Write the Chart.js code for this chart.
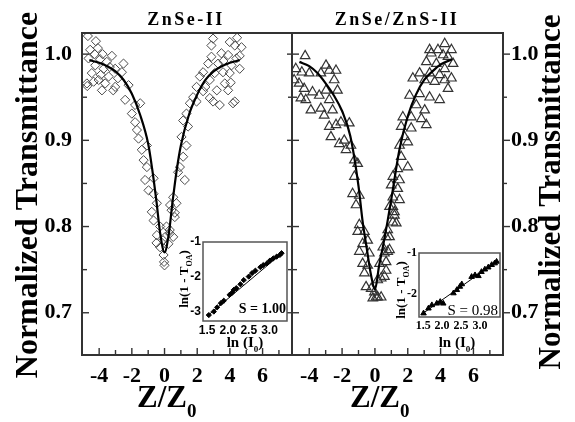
<!DOCTYPE html>
<html><head><meta charset="utf-8">
<script src="https://cdn.jsdelivr.net/npm/chart.js@4.4.1/dist/chart.umd.min.js"></script>
<style>
html,body{margin:0;padding:0;background:#fff;}
#wrap{position:relative;width:575px;height:422px;overflow:hidden;background:#fff}
#wrap canvas{position:absolute;left:0;top:0}
</style></head><body>
<div id="wrap">
<canvas id="cL" width="575" height="422"></canvas>
<canvas id="cR" width="575" height="422"></canvas>
<canvas id="iL" width="575" height="422"></canvas>
<canvas id="iR" width="575" height="422"></canvas>
</div>
<script>
// ---------- tick values / labels ----------
const mainXTicks  = [-4,-3,-2,-1,0,1,2,3,4,5,6,7];
const mainXLabels = ['-4','','-2','','0','','2','','4','','6',''];
const mainYTicks  = [0.7,0.75,0.8,0.85,0.9,0.95,1.0];
const mainYLabels = ['0.7','','0.8','','0.9','','1.0'];
const insXTicks   = [1.5,2.0,2.5,3.0];
const insXLabels  = ['1.5','2.0','2.5','3.0'];
const insLYTicks  = [-1,-2,-3];
const insLYLabels = ['-1','-2','-3'];
const insRYTicks  = [-1,-2];
const insRYLabels = ['-1','-2'];

// ---------- ZnSe-II (left panel) ----------
const znseX = [-4.69,-4.20,-4.55,-4.08,-4.28,-3.79,-3.22,-4.65,-3.94,-3.53,-2.51,-4.24,-3.73,-3.02,-2.61,-4.75,-4.34,-4.03,-3.63,-3.42,
 -3.02,-2.20,-3.83,-2.41,-1.80,-1.49,-2.00,-1.80,-1.69,-1.59,-1.08,-1.39,-1.28,-1.08,-1.19,-0.67,-0.98,-0.67,-0.78,-0.47,
 0.34,-0.67,-0.27,-0.47,0.04,-0.27,-0.06,0.24,-0.03,0.00,-0.49,0.32,0.63,0.53,-4.73,-3.14,-4.45,-3.90,-3.35,-2.85,
 4.44,2.97,4.30,4.71,2.87,3.48,3.89,2.87,4.40,2.67,3.28,4.10,4.60,2.36,3.07,3.58,3.99,2.16,2.77,3.69,
 3.89,1.96,2.36,2.77,3.38,2.97,4.30,1.75,1.55,1.96,1.34,1.14,1.44,1.04,1.34,1.14,0.94,0.83,1.24,0.53,
 0.73,0.43,0.63,0.12,0.32,-0.09,3.99,4.19,3.60,4.05,3.20,2.50,4.60];
const znseY = [1.021,1.015,1.005,1.007,1.000,1.000,0.998,0.995,0.994,0.991,0.989,0.987,0.983,0.983,0.979,0.966,0.968,0.970,0.966,0.974,
 0.962,0.964,0.958,0.947,0.941,0.943,0.931,0.921,0.912,0.902,0.894,0.889,0.877,0.869,0.854,0.856,0.842,0.838,0.817,0.827,
 0.825,0.807,0.800,0.790,0.788,0.776,0.767,0.780,0.759,0.755,0.781,0.796,0.816,0.788,0.963,0.958,0.978,0.976,0.985,0.972,
 1.019,1.018,1.010,1.008,1.010,1.001,0.999,0.997,0.995,0.989,0.989,0.987,0.983,0.979,0.978,0.979,0.978,0.974,0.970,0.966,
 0.958,0.962,0.957,0.949,0.941,0.945,0.945,0.950,0.943,0.945,0.931,0.923,0.916,0.904,0.894,0.881,0.869,0.863,0.854,0.834,
 0.827,0.819,0.811,0.800,0.792,0.784,1.014,0.943,0.992,0.967,0.958,0.962,0.998];
const znseFitX = [-4.6,-4,-3.5,-3,-2.5,-2,-1.5,-1,-0.75,-0.5,-0.25,0,0.25,0.5,0.75,1,1.5,2,2.5,3,3.5,4,4.6];
const znseFitY = [0.993,0.990,0.986,0.980,0.970,0.954,0.930,0.896,0.866,0.830,0.790,0.770,0.790,0.830,0.866,0.894,0.930,0.953,0.970,0.980,0.986,0.990,0.993];

// ---------- ZnSe/ZnS-II (right panel) ----------
const zsX = [-4.25,-4.82,-4.45,-4.00,-2.98,-2.37,-3.29,-2.78,-4.92,-4.62,-4.31,-3.80,-4.51,-4.21,-3.39,-2.98,-2.48,-2.28,-2.78,-3.90,
 -3.29,-3.09,-2.58,-2.78,-2.37,-2.07,-2.68,-2.17,-1.87,-1.56,-1.76,-1.46,-1.25,-1.05,-1.25,-1.36,-0.95,-1.15,-0.95,-1.05,
 -0.64,-0.44,-0.75,-0.95,-0.34,-0.44,-0.64,-0.54,-0.13,-0.23,-0.75,
 0.17,0.38,0.17,-0.03,0.58,0.68,0.68,0.58,0.89,0.89,0.78,1.30,1.19,1.09,
 4.25,3.84,3.43,4.15,4.45,3.13,3.74,4.25,2.72,3.33,3.94,2.31,3.03,3.64,4.25,2.11,2.72,3.33,3.94,2.52,
 3.03,1.70,2.21,2.83,3.13,1.60,2.21,1.80,1.50,2.00,1.60,2.00,1.39,1.09,1.50,0.99,1.39,1.09,1.50,0.89,
 1.19,1.09,0.68,0.48,0.78,0.28,0.38,0.07,4.66,4.76,4.66,4.45,3.33];
const zsY = [0.998,0.983,0.979,0.978,0.987,0.981,0.978,0.981,0.970,0.966,0.960,0.956,0.949,0.947,0.952,0.958,0.970,0.958,0.947,0.935,
 0.937,0.929,0.935,0.916,0.918,0.921,0.904,0.896,0.900,0.920,0.889,0.894,0.877,0.873,0.858,0.838,0.836,0.825,0.802,0.794,
 0.794,0.784,0.780,0.771,0.769,0.755,0.746,0.730,0.717,0.728,0.757,
 0.718,0.718,0.738,0.724,0.742,0.749,0.759,0.769,0.773,0.788,0.796,0.804,0.813,0.823,
 1.012,1.005,1.001,0.999,0.997,0.991,0.989,0.983,0.978,0.978,0.976,0.972,0.970,0.968,0.970,0.952,0.954,0.950,0.947,0.941,
 0.935,0.927,0.927,0.925,0.918,0.916,0.914,0.904,0.894,0.898,0.881,0.869,0.867,0.858,0.854,0.848,0.844,0.834,0.831,0.823,
 0.817,0.805,0.788,0.776,0.771,0.757,0.740,0.718,1.005,0.989,0.972,0.960,1.005];
const zsFitX = [-4.6,-4,-3.5,-3,-2.5,-2,-1.5,-1,-0.75,-0.5,-0.25,0,0.25,0.5,0.75,1,1.5,2,2.5,3,3.5,4,4.7];
const zsFitY = [0.991,0.986,0.978,0.966,0.952,0.934,0.905,0.847,0.806,0.775,0.745,0.727,0.754,0.778,0.804,0.832,0.890,0.928,0.953,0.970,0.980,0.988,0.994];

// ---------- insets: ln(1-T_OA) vs ln(I0) ----------
const insLX = [1.54,1.66,1.74,1.83,1.90,2.04,2.10,2.14,2.20,2.30,2.38,2.50,2.58,2.66,2.78,2.85,2.94,3.01,3.09,3.17,3.25,3.29];
const insLY = [-3.09,-2.99,-2.87,-2.75,-2.68,-2.51,-2.45,-2.37,-2.32,-2.21,-2.09,-1.99,-1.89,-1.82,-1.72,-1.66,-1.61,-1.53,-1.47,-1.42,-1.37,-1.32];
const insLFitX = [1.50,3.32];
const insLFitY = [-3.12,-1.30];
const insRX = [1.51,1.64,1.73,1.86,1.95,2.03,2.30,2.39,2.47,2.52,2.78,2.87,2.96,3.04,3.13,3.22,3.31,3.39,3.44];
const insRY = [-2.47,-2.35,-2.27,-2.23,-2.19,-2.23,-1.98,-1.90,-1.82,-1.76,-1.58,-1.54,-1.56,-1.46,-1.40,-1.35,-1.29,-1.25,-1.21];
const insRFitX = [1.45,3.47];
const insRFitY = [-2.50,-1.19];

// ---------- helpers ----------
const pts = (xs, ys) => xs.map((x, i) => ({x, y: ys[i]}));
const SERIF = '"Liberation Serif","Times New Roman",serif';

const framePlugin = {
  id: 'frameTicks',
  beforeDatasetsDraw(chart, args, o) {
    if (!o.bg) return;
    const a = chart.chartArea, ctx = chart.ctx;
    ctx.save(); ctx.fillStyle = o.bg;
    ctx.fillRect(a.left, a.top, a.right - a.left, a.bottom - a.top);
    ctx.restore();
  },
  afterDatasetsDraw(chart, args, o) {
    const a = chart.chartArea, ctx = chart.ctx;
    ctx.save();
    ctx.strokeStyle = o.color || '#333';
    ctx.lineWidth = o.width || 1.5;
    ctx.strokeRect(a.left, a.top, a.right - a.left, a.bottom - a.top);
    ctx.lineWidth = o.tickWidth || 1.2;
    (o.marks || []).forEach(m => {
      const sc = chart.scales[m.scale];
      sc.ticks.forEach(t => {
        const len = (t.label !== '' ? m.major : m.minor) * m.dir;
        const p = sc.getPixelForValue(t.value);
        ctx.beginPath();
        if (m.side === 'bottom') { ctx.moveTo(p, a.bottom); ctx.lineTo(p, a.bottom - len); }
        else if (m.side === 'left') { ctx.moveTo(a.left, p); ctx.lineTo(a.left + len, p); }
        else if (m.side === 'right') { ctx.moveTo(a.right, p); ctx.lineTo(a.right - len, p); }
        ctx.stroke();
      });
    });
    ctx.restore();
  }
};

const textPlugin = {
  id: 'texts',
  afterDraw(chart, args, o) {
    const ctx = chart.ctx;
    (o.items || []).forEach(it => {
      ctx.save();
      ctx.fillStyle = it.color || '#000';
      ctx.textBaseline = 'alphabetic';
      ctx.textAlign = 'left';
      try { ctx.letterSpacing = it.ls || '0px'; } catch (e) {}
      let total = 0;
      const w = it.segs.map(s => { ctx.font = s.font; const m = ctx.measureText(s.t).width; total += m; return m; });
      ctx.translate(it.x, it.y);
      ctx.rotate(it.rot || 0);
      let cx = it.align === 'center' ? -total / 2 : (it.align === 'right' ? -total : 0);
      it.segs.forEach((s, i) => { ctx.font = s.font; ctx.fillText(s.t, cx, s.dy || 0); cx += w[i]; });
      ctx.restore();
    });
  }
};

const fixW = v => s => { s.width = v; };
const fixH = v => s => { s.height = v; };
const setTicks = vals => s => { s.ticks = vals.map(v => ({value: v})); };

// area = [left, top, right, bottom] of the plot box in page pixels
function mainChart(id, area, fitX, fitY, px, py, marker, rightLabels, items) {
  const [L, T, Rr, Bb] = area;
  const tickFont = {family: SERIF, weight: 'bold', size: 22};
  const scales = {
    x: {type: 'linear', position: 'bottom', min: -5.05, max: 7.8,
        grid: {display: false, drawTicks: false}, border: {display: false},
        afterBuildTicks: setTicks(mainXTicks), afterFit: fixH(422 - Bb),
        ticks: {autoSkip: false, maxRotation: 0, padding: 8, color: '#000', font: tickFont,
                callback: (v, i) => mainXLabels[i]}},
    y: {type: 'linear', position: 'left', min: 0.651, max: 1.0245,
        grid: {display: false, drawTicks: false}, border: {display: false},
        afterBuildTicks: setTicks(mainYTicks), afterFit: fixW(rightLabels ? 0 : L),
        ticks: {display: !rightLabels, autoSkip: false, padding: 10, color: '#000', font: tickFont,
                callback: (v, i) => mainYLabels[i]}}
  };
  const marks = [
    {scale: 'x', side: 'bottom', dir: 1, major: 7, minor: 5},
    {scale: 'y', side: 'left', dir: 1, major: 7, minor: 5}
  ];
  if (rightLabels) {
    scales.y2 = {type: 'linear', position: 'right', min: 0.651, max: 1.0245,
        grid: {display: false, drawTicks: false}, border: {display: false},
        afterBuildTicks: setTicks(mainYTicks), afterFit: fixW(575 - Rr),
        ticks: {autoSkip: false, padding: 8, color: '#000', font: tickFont,
                callback: (v, i) => mainYLabels[i]}};
    marks.push({scale: 'y2', side: 'right', dir: -1, major: 7, minor: 4});
  } else {
    marks.push({scale: 'y', side: 'right', dir: 1, major: 5, minor: 4});
  }
  const pad = {left: rightLabels ? L : 0, top: T, right: rightLabels ? 0 : 575 - Rr, bottom: 0};
  return new Chart(document.getElementById(id), {
    type: 'scatter',
    data: {datasets: [
      {type: 'line', data: pts(fitX, fitY), borderColor: '#000', borderWidth: 2.2, pointRadius: 0,
       cubicInterpolationMode: 'monotone', fill: false},
      {type: 'scatter', data: pts(px, py), pointStyle: marker.style, pointRadius: marker.r,
       borderColor: marker.color, borderWidth: marker.bw, backgroundColor: 'rgba(0,0,0,0)'}
    ]},
    options: {
      responsive: false, animation: false, events: [],
      layout: {padding: pad},
      scales,
      plugins: {legend: {display: false}, tooltip: {enabled: false}, title: {display: false},
        frameTicks: {color: '#333', width: 2, tickWidth: 1.4, marks},
        texts: {items}}
    },
    plugins: [framePlugin, textPlugin]
  });
}

function insetChart(id, area, xr, yr, yTicks, yLabels, fx, fy, px, py, marker, tickFamily, items) {
  const [L, T, Rr, Bb] = area;
  const f = {family: tickFamily, weight: 'bold', size: 12};
  return new Chart(document.getElementById(id), {
    type: 'scatter',
    data: {datasets: [
      {type: 'line', data: pts(fx, fy), borderColor: '#000', borderWidth: 1, pointRadius: 0, fill: false},
      {type: 'scatter', data: pts(px, py), pointStyle: marker.style, pointRadius: marker.r,
       borderColor: '#000', borderWidth: 1, backgroundColor: '#000'}
    ]},
    options: {
      responsive: false, animation: false, events: [],
      layout: {padding: {left: 0, top: T, right: 575 - Rr, bottom: 0}},
      scales: {
        x: {type: 'linear', min: xr[0], max: xr[1], grid: {display: false, drawTicks: false}, border: {display: false},
            afterBuildTicks: setTicks(insXTicks), afterFit: fixH(422 - Bb),
            ticks: {autoSkip: false, maxRotation: 0, padding: 2, color: '#000', font: f, callback: (v, i) => insXLabels[i]}},
        y: {type: 'linear', min: yr[0], max: yr[1], grid: {display: false, drawTicks: false}, border: {display: false},
            afterBuildTicks: setTicks(yTicks), afterFit: fixW(L),
            ticks: {autoSkip: false, padding: 2, color: '#000', font: f, callback: (v, i) => yLabels[i]}}
      },
      plugins: {legend: {display: false}, tooltip: {enabled: false},
        frameTicks: {bg: '#fff', color: '#555', width: 1.5, marks: []},
        texts: {items}}
    },
    plugins: [framePlugin, textPlugin]
  });
}

const B = s => 'bold ' + s + 'px ' + SERIF;
const R90 = -Math.PI / 2;

mainChart('cL', [82, 33, 292, 355], znseFitX, znseFitY, znseX, znseY,
  {style: 'rectRot', r: 4.6, color: '#4a4a4a', bw: 1}, false, [
    {x: 186, y: 25, align: 'center', ls: '2.5px', segs: [{t: 'ZnSe-II', font: B(18)}]},
    {x: 37, y: 195, rot: R90, align: 'center', segs: [{t: 'Normalized Transmittance', font: B(32)}]},
    {x: 137, y: 407, align: 'left', segs: [{t: 'Z/Z', font: B(31)}, {t: '0', font: B(19), dy: 10}]}
  ]);

mainChart('cR', [292, 33, 503, 355], zsFitX, zsFitY, zsX, zsY,
  {style: 'triangle', r: 5.5, color: '#333', bw: 1.2}, true, [
    {x: 397, y: 25, align: 'center', ls: '2.5px', segs: [{t: 'ZnSe/ZnS-II', font: B(18)}]},
    {x: 560, y: 192, rot: R90, align: 'center', segs: [{t: 'Normalized Transmittance', font: B(31)}]},
    {x: 350, y: 407, align: 'left', segs: [{t: 'Z/Z', font: B(31)}, {t: '0', font: B(19), dy: 10}]}
  ]);

insetChart('iL', [203, 242, 287, 321], [1.4, 3.42], [-3.26, -1.0], insLYTicks, insLYLabels,
  insLFitX, insLFitY, insLX, insLY, {style: 'rectRot', r: 2.6}, '"Liberation Sans",Arial,sans-serif', [
    {x: 188, y: 279, rot: R90, align: 'center', segs: [{t: 'ln(1 - T', font: B(13)}, {t: 'OA', font: B(8), dy: 4}, {t: ')', font: B(13)}]},
    {x: 245, y: 347, align: 'center', segs: [{t: 'ln (I', font: B(15)}, {t: '0', font: B(9), dy: 5}, {t: ')', font: B(15)}]},
    {x: 286, y: 313, align: 'right', segs: [{t: 'S = 1.00', font: B(14)}]}
  ]);

insetChart('iR', [419, 253, 500, 317], [1.39, 3.53], [-2.56, -1.0], insRYTicks, insRYLabels,
  insRFitX, insRFitY, insRX, insRY, {style: 'triangle', r: 3.2}, SERIF, [
    {x: 405, y: 290, rot: R90, align: 'center', segs: [{t: 'ln(1 - T', font: B(13)}, {t: 'OA', font: B(8), dy: 4}, {t: ')', font: B(13)}]},
    {x: 457, y: 347, align: 'center', segs: [{t: 'ln (I', font: B(15)}, {t: '0', font: B(9), dy: 5}, {t: ')', font: B(15)}]},
    {x: 498, y: 315, align: 'right', segs: [{t: 'S = 0.98', font: '15px ' + SERIF}]}
  ]);
</script>
</body></html>
